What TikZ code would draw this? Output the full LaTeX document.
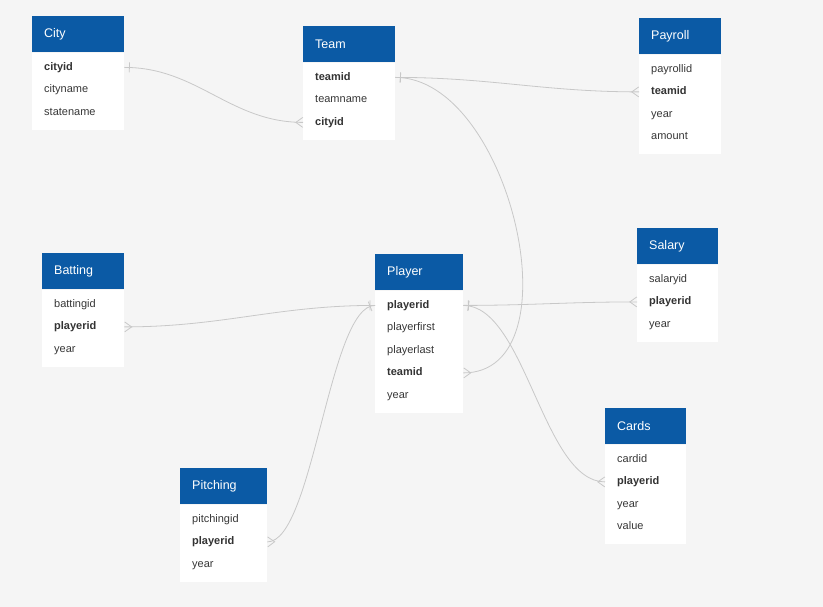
\documentclass[tikz,border=0pt]{standalone}
\usepackage{fontspec}
\setmainfont{Liberation Sans}
\usetikzlibrary{calc,decorations.markings}

\definecolor{headblue}{RGB}{11,90,165}
\definecolor{canvas}{RGB}{245,245,245}
\definecolor{linegray}{RGB}{200,200,200}
\definecolor{textgray}{RGB}{55,55,55}

\tikzset{
  header/.style={fill=headblue, anchor=north west, minimum height=36pt, inner sep=0pt},
  title/.style={anchor=west, text=white, inner sep=0pt, font=\fontsize{12.5}{14}\selectfont},
  body/.style={fill=white, anchor=north west, inner sep=0pt},
  field/.style={anchor=west, inner sep=0pt, text height=8pt, text depth=2.5pt, text=textgray, font=\fontsize{11}{13}\selectfont},
  keyfield/.style={field, text=black!80, font=\fontsize{11}{13}\selectfont\bfseries},
  rel/.style={draw=linegray, line width=0.8pt,
    postaction={decorate, decoration={markings,
      mark=at position 5pt with {\draw[linegray, line width=0.8pt] (0,-5pt) -- (0,5pt);},
      mark=at position 0.999 with {\draw[linegray, line width=0.8pt] (0,5pt) -- (-7pt,0) -- (0,-5pt);}}}}
}

% #1 name, #2 left, #3 top, #4 width, #5 rows, #6 title, #7 fields
\newcommand{\entity}[7]{
  \node[header, minimum width=#4pt] (#1) at (#2,#3) {};
  \node[title] (#1-title) at ($(#1.west)+(12,0)$) {#6};
  \node[body, minimum width=#4pt, minimum height={(22.5*#5+9.5)*1pt}] (#1-body) at (#1.south west) {};
  \foreach \f/\s [count=\i] in {#7}
    \node[\s] (#1-\f) at ($(#1.south west)+(12,{15+22.5*(\i-1)})$) {\f};
}

\begin{document}
\begin{tikzpicture}[x=1pt, y=-1pt]
  \fill[canvas] (0,0) rectangle (823,607);
  \useasboundingbox (0,0) rectangle (823,607);

  \entity{city}{32}{16}{92}{3}{City}{cityid/keyfield, cityname/field, statename/field}
  \entity{team}{303}{26}{92}{3}{Team}{teamid/keyfield, teamname/field, cityid/keyfield}
  \entity{payroll}{639}{18}{82}{4}{Payroll}{payrollid/field, teamid/keyfield, year/field, amount/field}
  \entity{batting}{42}{253}{82}{3}{Batting}{battingid/field, playerid/keyfield, year/field}
  \entity{player}{375}{254}{88}{5}{Player}{playerid/keyfield, playerfirst/field, playerlast/field, teamid/keyfield, year/field}
  \entity{salary}{637}{228}{81}{3}{Salary}{salaryid/field, playerid/keyfield, year/field}
  \entity{cards}{605}{408}{81}{4}{Cards}{cardid/field, playerid/keyfield, year/field, value/field}
  \entity{pitching}{180}{468}{87}{3}{Pitching}{pitchingid/field, playerid/keyfield, year/field}

  % relations, drawn from the one side to the many side
  \draw[rel] (city-body.east |- city-cityid) to[out=0, in=180] (team-body.west |- team-cityid);
  \draw[rel] (team-body.east |- team-teamid) to[out=0, in=180] (payroll-body.west |- payroll-teamid);
  \draw[rel] (team-body.east |- team-teamid) to[out=0, in=0, looseness=0.97] (player-body.east |- player-teamid);
  \draw[rel] (player-body.west |- player-playerid) to[out=180, in=0] (batting-body.east |- batting-playerid);
  \draw[rel] (player-body.west |- player-playerid) to[out=180, in=0, looseness=0.45] (pitching-body.east |- pitching-playerid);
  \draw[rel] (player-body.east |- player-playerid) to[out=0, in=180] (salary-body.west |- salary-playerid);
  \draw[rel] (player-body.east |- player-playerid) to[out=0, in=180, looseness=0.7] (cards-body.west |- cards-playerid);
\end{tikzpicture}
\end{document}
